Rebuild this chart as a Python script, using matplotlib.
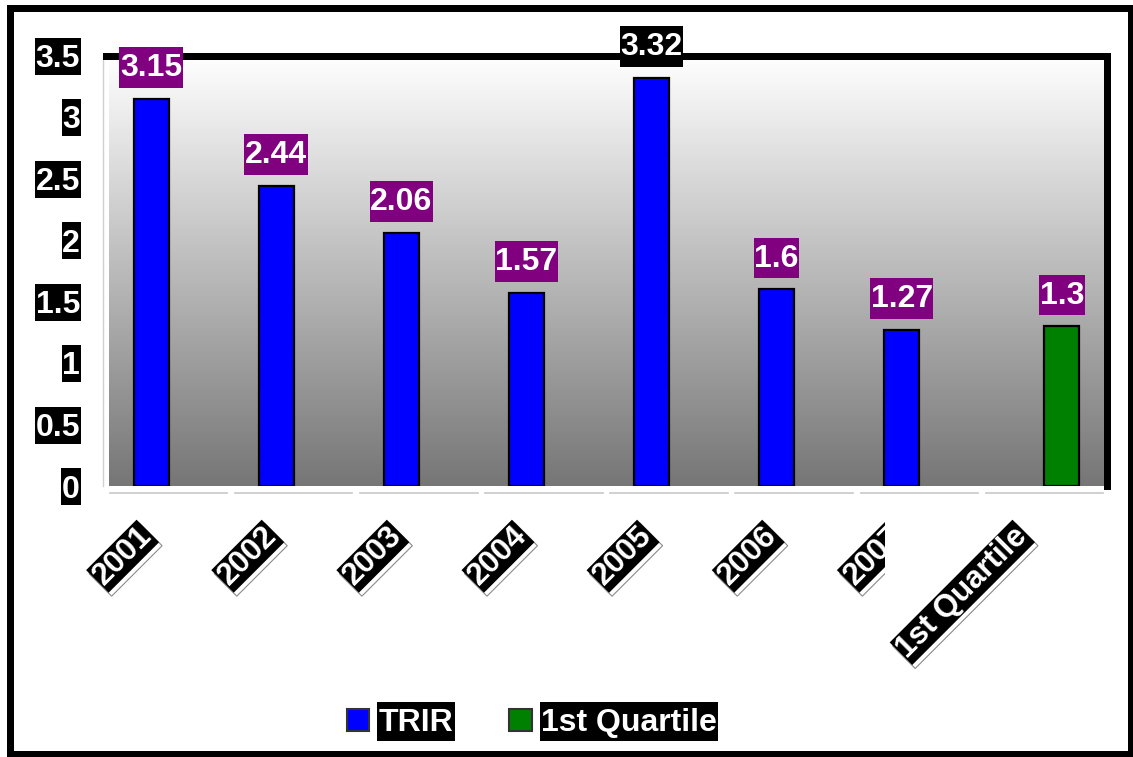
import numpy as np
import matplotlib.pyplot as plt
from functools import partial
from matplotlib.patches import Rectangle
from matplotlib.path import Path
from matplotlib.colors import LinearSegmentedColormap
from matplotlib.transforms import Bbox, TransformedBbox

plt.rcParams['font.family'] = ['Liberation Sans', 'DejaVu Sans']
plt.rcParams['font.weight'] = 'bold'

# TRIR by year plus the 1st quartile benchmark
years = ['2001', '2002', '2003', '2004', '2005', '2006', '2007']
trir = [3.15, 2.44, 2.06, 1.57, 3.32, 1.6, 1.27]
quartile_name = '1st Quartile'
quartile = [1.3]
categories = years + [quartile_name]
yticks = [0, 0.5, 1, 1.5, 2, 2.5, 3, 3.5]
ytick_labels = ['0', '0.5', '1', '1.5', '2', '2.5', '3', '3.5']

W, H = 1133, 757
fig = plt.figure(figsize=(W / 100, H / 100), dpi=100)
ax = fig.add_axes([106 / W, 1 - 486 / H, 1001 / W, 430.5 / H])

PX = 0.72  # points per pixel at 100 dpi
FS = 23
purple = '#800080'


def label_box(x0, y0, width, height, mutation_size, side=0.02, top=0.19, bottom=0.14):
    # rectangle with separate side/top/bottom padding (fractions of font size)
    l, r = x0 - side * mutation_size, x0 + width + side * mutation_size
    b, t = y0 - bottom * mutation_size, y0 + height + top * mutation_size
    return Path([(l, b), (r, b), (r, t), (l, t), (l, b)], closed=True)


value_box = partial(label_box, side=0.02, top=0.19, bottom=0.14)
tick_box = partial(label_box, side=0.02, top=0.2, bottom=0.02)
legend_box = partial(label_box, side=0.04, top=0.2, bottom=0.08)

# spine placement first (moving a spine rebuilds the ticks)
for s in ('top', 'right'):
    ax.spines[s].set_color('black')
    ax.spines[s].set_linewidth(7 * PX)
    ax.spines[s].set_zorder(5)
ax.spines['bottom'].set_visible(False)
ax.spines['left'].set_color('#d0d0d0')
ax.spines['left'].set_linewidth(1)
ax.spines['left'].set_position(('outward', 3 * PX))

# grey gradient wall behind the bars
cmap = LinearSegmentedColormap.from_list('wall', ['#767676', '#ffffff'])
grad = np.linspace(1, 0, 256).reshape(-1, 1)
ax.imshow(grad, extent=[0.003, 1, 0, 1], transform=ax.transAxes, aspect='auto',
          cmap=cmap, vmin=0, vmax=1, zorder=0)

x = np.arange(len(categories))
bw = 0.28
b1 = ax.bar(x[:len(years)] - 0.14, trir, bw, color='#0000ff', edgecolor='black',
            linewidth=1.6, label='TRIR', zorder=3)
b2 = ax.bar(x[len(years):] + 0.14, quartile, bw, color='#008000', edgecolor='black',
            linewidth=1.6, label=quartile_name, zorder=3)

ax.set_xlim(-0.5, len(categories) - 0.5)
ax.set_ylim(0, 3.5)

# value labels over each bar
for bars, vals in ((b1, trir), (b2, quartile)):
    for rect, v in zip(bars, vals):
        fc = 'black' if v == max(trir) else purple
        ax.annotate(f'{v:g}', xy=(rect.get_x() + rect.get_width() / 2, v),
                    xytext=(0, 15.5 * PX), textcoords='offset points',
                    ha='center', va='bottom', color='white', fontsize=FS,
                    fontweight='bold', zorder=6, annotation_clip=False,
                    bbox=dict(boxstyle=value_box, fc=fc, ec='none'))

# y axis labels on black boxes
ax.set_yticks(yticks)
ax.set_yticklabels(ytick_labels)
ax.tick_params(axis='y', length=0, pad=23 * PX, labelsize=FS, labelcolor='white')
for t in ax.get_yticklabels():
    t.set_fontweight('bold')
    t.set_bbox(dict(boxstyle=tick_box, fc='black', ec='none'))
ax.set_xticks([])

# floor edge, broken at each category boundary
for i in x:
    ax.plot([i - 0.47, i + 0.47], [-0.016, -0.016], color='#c8c8c8', lw=1.2,
            transform=ax.get_xaxis_transform(), clip_on=False, zorder=2)

# rotated category labels with a thin drop shadow
clip = TransformedBbox(Bbox.from_extents(0, 0, 885 / W, 1), fig.transFigure)
for i, name in enumerate(categories):
    kw = dict(xy=(i, 0), xycoords=('data', 'axes fraction'),
              textcoords='offset points', ha='right', va='top', rotation=45,
              rotation_mode='anchor', fontsize=FS - 0.5, fontweight='bold',
              annotation_clip=False)
    sh = ax.annotate(name, xytext=(-32 * PX + 3 * PX, -35 * PX - 3.5 * PX),
                     color='white', zorder=4,
                     bbox=dict(boxstyle='square,pad=0.03', fc='white', ec='#8a8a8a', lw=0.8),
                     **kw)
    t = ax.annotate(name, xytext=(-32 * PX, -35 * PX), color='white', zorder=5,
                    bbox=dict(boxstyle='square,pad=0.03', fc='black', ec='none'),
                    **kw)
    if name == years[-1]:
        for a in (sh, t):
            a.set_clip_on(True)
            a.set_clip_box(clip)

# legend along the bottom
leg = fig.legend(handles=[b1, b2], loc='center', bbox_to_anchor=(532 / W, 1 - 723 / H),
                 ncol=2, frameon=False, fontsize=FS, handlelength=0.7,
                 handleheight=0.7, handletextpad=0.3, columnspacing=1.75)
for t in leg.get_texts():
    t.set_color('white')
    t.set_fontweight('bold')
    t.set_bbox(dict(boxstyle=legend_box, fc='black', ec='none'))
for h in leg.legend_handles:
    h.set_edgecolor('#333333')
    h.set_linewidth(1.5)

# outer border
fig.patches.append(Rectangle((9.5 / W, 3.5 / H), 1121 / W, 745.5 / H,
                             transform=fig.transFigure, fill=False,
                             ec='black', lw=7 * PX))

fig.savefig('out.png', dpi=100)
